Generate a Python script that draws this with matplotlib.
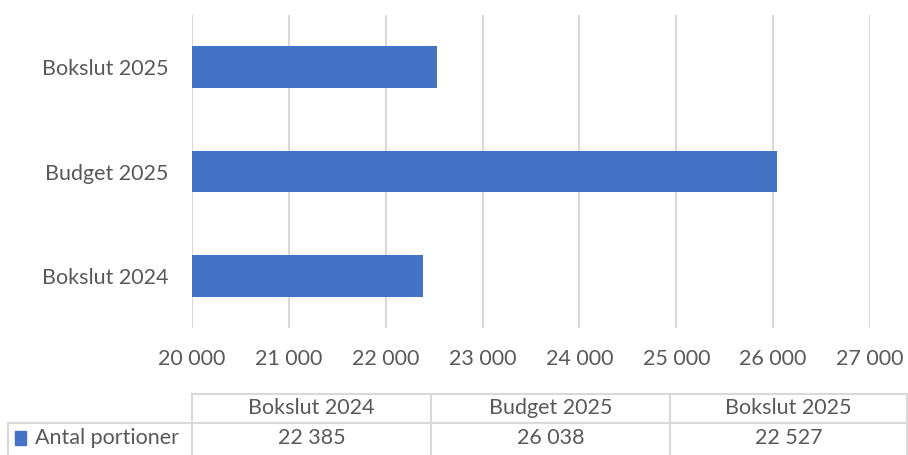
import matplotlib.pyplot as plt
from matplotlib.lines import Line2D

# Data
categories = ['Bokslut 2024', 'Budget 2025', 'Bokslut 2025']
values = [22385, 26038, 22527]
series_name = 'Antal portioner'
x_ticks = [20000, 21000, 22000, 23000, 24000, 25000, 26000, 27000]

bar_color = '#4472C4'
text_color = '#595959'
grid_color = '#d9d9d9'
fs = 15.5

plt.rcParams['font.family'] = ['Lato', 'DejaVu Sans']


def fmt(v):
    return f'{v:,}'.replace(',', ' ')


W, H = 908, 455
fig = plt.figure(figsize=(W / 100, H / 100), dpi=100)

# axes placed in pixel coordinates
left, right, top, bottom = 192, 870, 15, 328
ax = fig.add_axes([left / W, 1 - bottom / H, (right - left) / W, (bottom - top) / H])

ax.barh(range(len(categories)), values, height=0.4, color=bar_color, zorder=3)
ax.set_xlim(x_ticks[0], x_ticks[-1])
ax.set_ylim(-0.5, len(categories) - 0.5)
ax.set_xticks(x_ticks)
ax.set_xticklabels([fmt(t) for t in x_ticks])
ax.set_yticks(range(len(categories)))
ax.set_yticklabels(categories)
ax.tick_params(axis='both', length=0, labelsize=fs, colors=text_color)
ax.tick_params(axis='x', pad=15)
ax.tick_params(axis='y', pad=17)
ax.grid(axis='x', color=grid_color, linewidth=1.5, zorder=0)
for s in ax.spines.values():
    s.set_visible(False)


# data table under the chart, drawn in figure pixel coordinates
def px(x, y):
    return x / W, 1 - y / H


def hline(x0, x1, y):
    fig.add_artist(Line2D([x0 / W, x1 / W], [1 - y / H, 1 - y / H],
                          color=grid_color, linewidth=1.5))


def vline(x, y0, y1):
    fig.add_artist(Line2D([x / W, x / W], [1 - y0 / H, 1 - y1 / H],
                          color=grid_color, linewidth=1.5))


col_edges = [192, 431, 670, 907]
row_top, row_mid, row_bot = 394, 423, 455
hline(192, 908, row_top)
hline(8, 908, row_mid)
for x in col_edges:
    vline(x, row_top, row_bot)
vline(8, row_mid, row_bot)

for i, cat in enumerate(categories):
    cx = (col_edges[i] + col_edges[i + 1]) / 2
    fig.text(*px(cx, (row_top + row_mid) / 2), cat, ha='center', va='center',
             fontsize=fs, color=text_color)
    fig.text(*px(cx, (row_mid + row_bot) / 2 - 1), fmt(values[i]), ha='center', va='center',
             fontsize=fs, color=text_color)

# legend key + series name
fig.patches.append(plt.Rectangle(px(15, 445), 11 / W, 14 / H, color=bar_color,
                                 transform=fig.transFigure, figure=fig))
fig.text(*px(35, (row_mid + row_bot) / 2 - 1), series_name, ha='left', va='center',
         fontsize=fs, color=text_color)

fig.savefig('out.png', dpi=100)
